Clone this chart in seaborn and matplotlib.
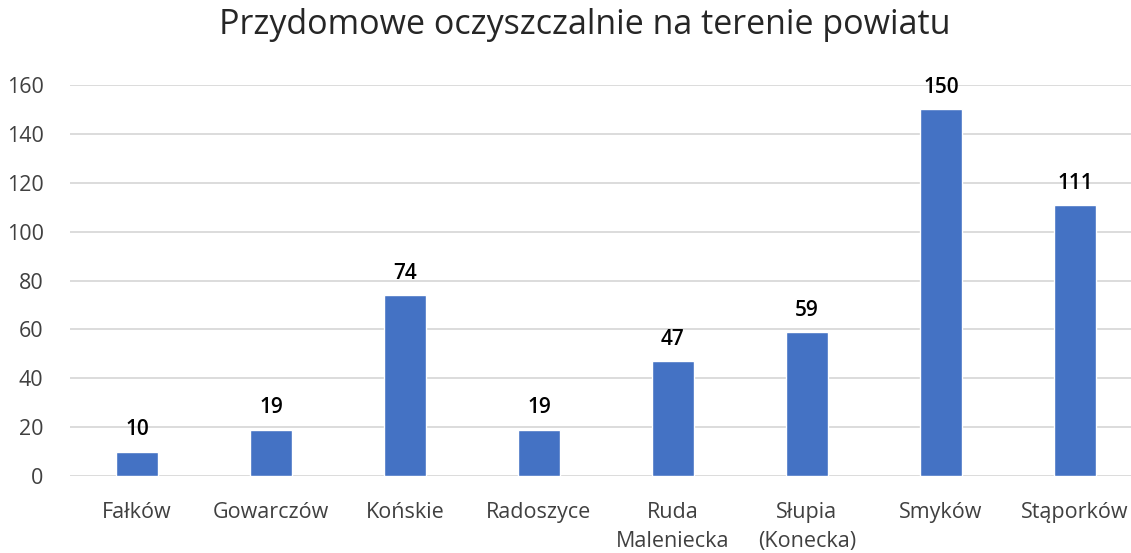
import matplotlib
matplotlib.use('Agg')
import matplotlib.pyplot as plt
import seaborn as sns
import pandas as pd

# Dane
gminy = ['Fałków', 'Gowarczów', 'Końskie', 'Radoszyce', 'Ruda\nMaleniecka',
         'Słupia\n(Konecka)', 'Smyków', 'Stąporków']
liczba = [10, 19, 74, 19, 47, 59, 150, 111]
y_ticks = [0, 20, 40, 60, 80, 100, 120, 140, 160]

df = pd.DataFrame({'gmina': gminy, 'liczba': liczba})

sns.set_theme(style='white')
plt.rcParams['font.family'] = ['Open Sans', 'DejaVu Sans']

fig = plt.figure(figsize=(11.31, 5.53), dpi=100)
ax = fig.add_axes([70 / 1131, 1 - 476 / 553, 1 - 70 / 1131, 391 / 553])

sns.barplot(data=df, x='gmina', y='liczba', color='#4472C4', width=0.32,
            saturation=1, ax=ax)

ax.set_ylim(0, 160)
ax.set_yticks(y_ticks)
ax.set_xlim(-0.5, (1131 - 70) / 134 - 0.5)
ax.yaxis.grid(True, color='#D9D9D9', linewidth=1.3)
ax.set_axisbelow(True)
for s in ax.spines.values():
    s.set_visible(False)
ax.tick_params(axis='both', length=0, labelsize=15.5, labelcolor='#404040')
ax.tick_params(axis='x', pad=19)
ax.tick_params(axis='y', pad=19)
for lbl in ax.get_xticklabels():
    lbl.set_linespacing(1.5)
ax.set_xlabel('')
ax.set_ylabel('')

# Etykiety wartosci nad slupkami
for bar, v in zip(ax.patches, liczba):
    ax.annotate(f'{v}', xy=(bar.get_x() + bar.get_width() / 2, bar.get_height()),
                xytext=(0, 8), textcoords='offset points', ha='center', va='bottom',
                fontsize=15, fontweight='semibold', color='black')

fig.suptitle('Przydomowe oczyszczalnie na terenie powiatu', x=0.517, y=0.985,
             va='top', fontsize=24.5, color='#262626')

fig.savefig('out.png', dpi=100)
